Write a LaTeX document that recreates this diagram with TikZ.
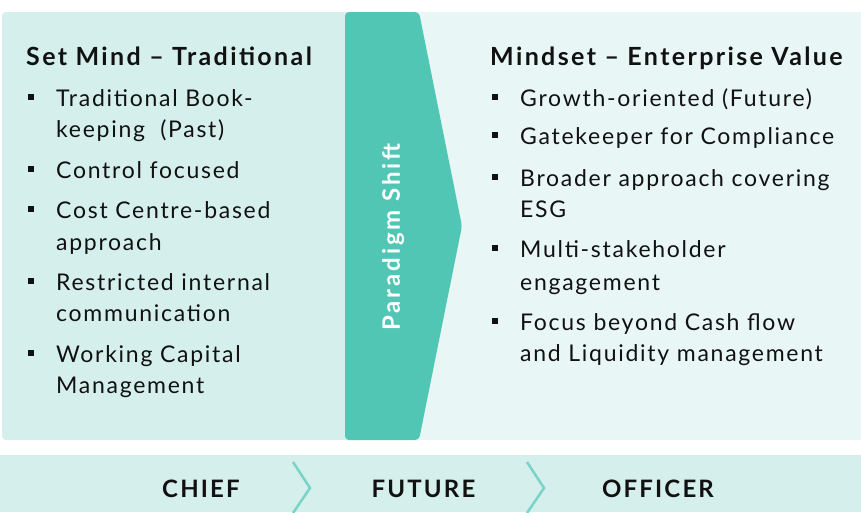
\documentclass[tikz,border=0pt]{standalone}
\usepackage{fontspec}
\setmainfont{Lato}
\newfontfamily\bodyfont[LetterSpace=7.5]{Lato}
\newfontfamily\headfont[LetterSpace=9.5]{Lato}
\newfontfamily\footfont[LetterSpace=9]{Lato}
\newfontfamily\shiftfont[LetterSpace=12]{Lato}
\definecolor{leftbg}{HTML}{D5EFEC}
\definecolor{rightbg}{HTML}{E8F7F5}
\definecolor{arrowc}{HTML}{52C6B5}
\definecolor{chevc}{HTML}{7AD4C6}
\definecolor{txt}{HTML}{111111}
\tikzset{
  body/.style={anchor=base west, inner sep=0pt, text=txt, font=\bodyfont\fontsize{23}{27}\selectfont},
  head/.style={anchor=base west, inner sep=0pt, text=txt, font=\headfont\bfseries\fontsize{25}{29}\selectfont},
  bul/.style={fill=txt, inner sep=0pt, minimum size=6pt, draw=none},
  foot/.style={inner sep=0pt, text=txt, font=\footfont\bfseries\fontsize{24}{28}\selectfont},
  chev/.style={draw=chevc, line width=2.5pt}
}
\begin{document}
\begin{tikzpicture}[x=1pt,y=-1pt]
\useasboundingbox (0,0) rectangle (861,512);
% panels
\fill[leftbg, rounded corners=4pt] (2,12) rectangle (360,440);
\fill[rightbg] (410,12) rectangle (861,440);
\fill[arrowc, rounded corners=4pt] (345,12) -- (419,12) -- (462,226) -- (419,440) -- (345,440) -- cycle;
\node[rotate=90, text=white, inner sep=0pt, font=\shiftfont\bfseries\fontsize{24}{28}\selectfont] (shift) at (393,237) {Paradigm Shift};
% bottom bar
\fill[leftbg] (0,455) rectangle (861,512);
\coordinate (c1a) at (293,462); \coordinate (c1b) at (310,488); \coordinate (c1c) at (293,513);
\coordinate (c2a) at (527,462); \coordinate (c2b) at (544,488); \coordinate (c2c) at (527,513);
\draw[chev] (c1a) -- (c1b) -- (c1c);
\draw[chev] (c2a) -- (c2b) -- (c2c);
\node[foot] (chief) at (201,489) {CHIEF};
\node[foot] (future) at (423.5,489) {FUTURE};
\node[foot] (officer) at (658,489) {OFFICER};
% left list
\node[head] (lh) at (26,65) {Set Mind – Traditional};
\node[bul] (lb1) at (30.5,96.5) {};
\node[body] (l1a) at (56,106) {Traditional Book-};
\node[body] (l1b) at (56,137) {keeping~~(Past)};
\node[bul] (lb2) at (30.5,168.5) {};
\node[body] (l2) at (56,178) {Control focused};
\node[bul] (lb3) at (30.5,208.5) {};
\node[body] (l3a) at (56,218) {Cost Centre-based};
\node[body] (l3b) at (56,250) {approach};
\node[bul] (lb4) at (30.5,280.5) {};
\node[body] (l4a) at (56,290) {Restricted internal};
\node[body] (l4b) at (56,321) {communication};
\node[bul] (lb5) at (30.5,352.5) {};
\node[body] (l5a) at (56,362) {Working Capital};
\node[body] (l5b) at (56,393) {Management};
% right list
\node[head] (rh) at (490,65) {Mindset – Enterprise Value};
\node[bul] (rb1) at (495,96.5) {};
\node[body] (r1) at (520,106) {Growth-oriented (Future)};
\node[bul] (rb2) at (495,134.5) {};
\node[body] (r2) at (520,144) {Gatekeeper for Compliance};
\node[bul] (rb3) at (495,176.5) {};
\node[body] (r3a) at (520,186) {Broader approach covering};
\node[body] (r3b) at (520,217) {ESG};
\node[bul] (rb4) at (495,247.5) {};
\node[body] (r4a) at (520,257) {Multi-stakeholder};
\node[body] (r4b) at (520,290) {engagement};
\node[bul] (rb5) at (495,320.5) {};
\node[body] (r5a) at (520,330) {Focus beyond Cash flow};
\node[body] (r5b) at (520,361) {and Liquidity management};
\end{tikzpicture}
\end{document}
